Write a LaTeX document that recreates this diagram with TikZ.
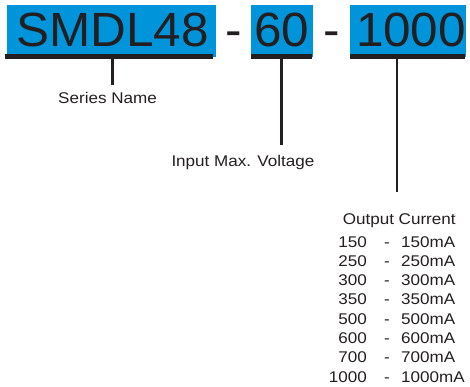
\documentclass[tikz,border=0pt]{standalone}
\usepackage{fontspec}
\setmainfont{Liberation Sans}
\newfontfamily\bigf[FakeStretch=1.03]{Liberation Sans}
\newfontfamily\smallf[FakeStretch=1.1]{Liberation Sans}
\definecolor{ink}{HTML}{231F20}
\definecolor{codeblue}{HTML}{0095DA}
\tikzset{
  bluebox/.style={fill=codeblue, draw=none, inner sep=0pt, anchor=north west},
  bigtxt/.style={font=\bigf\fontsize{48}{50}\selectfont, text=ink, inner sep=0pt, anchor=base},
  lbl/.style={font=\smallf\fontsize{15.5}{18}\selectfont, text=ink, inner sep=0pt, anchor=base},
  bar/.style={draw=ink, line width=5pt},
  leader/.style={draw=ink, line width=2.4pt},
}
\begin{document}
\begin{tikzpicture}[x=1pt,y=-1pt]
\useasboundingbox (0,0) rectangle (470,387);
% blue boxes
\node[bluebox, minimum width=209pt, minimum height=52pt] (box1) at (7,5) {};
\node[bluebox, minimum width=62pt, minimum height=52pt] (box2) at (251,5) {};
\node[bluebox, minimum width=116pt, minimum height=52pt] (box3) at (350,5) {};
% underline bars
\coordinate (b1l) at (5,56.5);   \coordinate (b1r) at (213,56.5);
\coordinate (b2l) at (251,56.5); \coordinate (b2r) at (312,56.5);
\coordinate (b3l) at (350,56.5); \coordinate (b3r) at (465,56.5);
\draw[bar] (b1l) -- (b1r);
\draw[bar] (b2l) -- (b2r);
\draw[bar] (b3l) -- (b3r);
% code text
\node[bigtxt] (t1) at (112.5,47) {SMDL48};
\node[bigtxt] (d1) at (233.5,47) {-};
\node[bigtxt] (t2) at (282,47) {60};
\node[bigtxt] (d2) at (331.5,47) {-};
\node[bigtxt] (t3) at (411,47) {1000};
% leaders
\coordinate (s1) at (112.3,58); \coordinate (e1) at (112.3,85);
\coordinate (s2) at (281.5,58); \coordinate (e2) at (281.5,145);
\coordinate (s3) at (396.7,58); \coordinate (e3) at (396.7,192);
\draw[leader] (s1) -- (e1);
\draw[leader] (s2) -- (e2);
\draw[leader] (s3) -- (e3);
% labels
\node[lbl] (series) at (107.5,103.7) {Series Name};
\node[lbl] (input) at (242.9,166.3) {Input Max. Voltage};
\node[lbl] (output) at (399.2,224.5) {Output Current};
\foreach \a/\b [count=\i from 0] in {150/150mA,250/250mA,300/300mA,350/350mA,500/500mA,600/600mA,700/700mA,1000/1000mA}{
  \node[lbl, anchor=base east] (l\i) at (367,247+19.3*\i) {\a};
  \node[lbl] (m\i) at (387,247+19.3*\i) {-};
  \node[lbl, anchor=base west] (r\i) at (401,247+19.3*\i) {\b};
}
\end{tikzpicture}
\end{document}
